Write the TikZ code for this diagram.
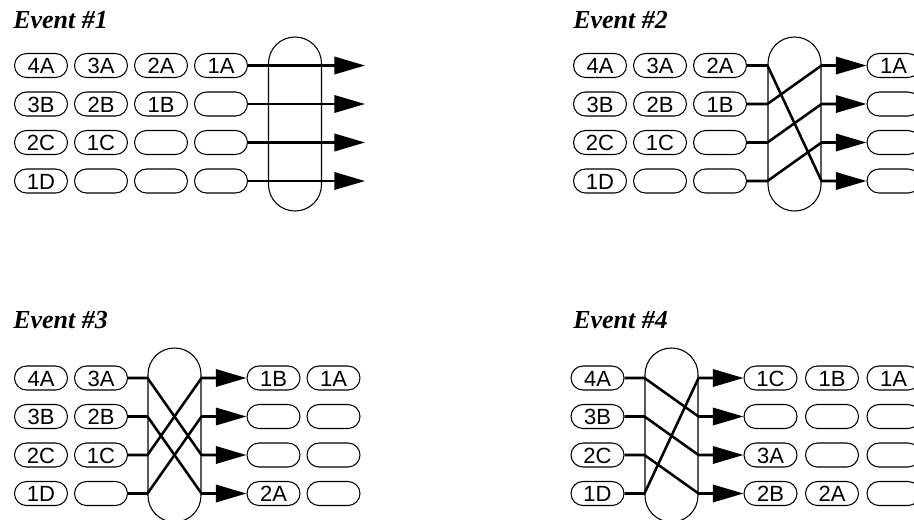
\documentclass[tikz,border=0pt]{standalone}
\usepackage{fontspec}
\setmainfont{Liberation Serif}
\setsansfont{Liberation Sans}
\usetikzlibrary{arrows.meta}

\begin{document}
\begin{tikzpicture}[x=0.75pt, y=-0.75pt, >={Triangle[length=23pt, width=13pt]},
    slot/.style={draw, line width=0.8pt, rounded corners=9pt,
      minimum width=39.75pt, minimum height=18pt, inner sep=0pt,
      text height=13.5pt, text depth=1pt,
      font=\sffamily\fontsize{16.5pt}{16.5pt}\selectfont},
    drum/.style={draw, line width=0.8pt, rounded corners=19.8pt,
      minimum width=39.75pt, minimum height=130.5pt, inner sep=0pt},
    wire/.style={line width=1.9pt, line join=round},
    title/.style={anchor=base west, inner sep=0pt,
      font=\bfseries\itshape\fontsize{19.5pt}{19.5pt}\selectfont}]

    \useasboundingbox (0,0) rectangle (914,519);
    \clip (0,0) rectangle (914,519);

    % Event #1: four queues, straight through
    \node[title] (t1) at (13,28) {Event \#1};
    \foreach \y/\labs [count=\r] in {65.5/{4A,3A,2A,1A}, 104/{3B,2B,1B,{}},
        142.5/{2C,1C,{},{}}, 181/{1D,{},{},{}}} {
      \foreach \lab [count=\c] in \labs
        \node[slot] (e1-\r-\c) at ({41+60*(\c-1)},\y) {\lab};
      \coordinate (f1-\r) at (365,\y);
    }
    \node[drum] (d1) at (295,124) {};
    \foreach \r in {1,...,4}
      \draw[wire, ->] (e1-\r-4.east) -- (f1-\r);

    % Event #2: rotate down by one
    \node[title] (t2) at (573,28) {Event \#2};
    \foreach \y/\labs [count=\r] in {65.5/{4A,3A,2A}, 104/{3B,2B,1B},
        142.5/{2C,1C,{}}, 181/{1D,{},{}}}
      \foreach \lab [count=\c] in \labs
        \node[slot] (e2-\r-\c) at ({600+60*(\c-1)},\y) {\lab};
    \foreach \y/\lab [count=\r] in {65.5/1A, 104/{}, 142.5/{}, 181/{}}
      \node[slot] (o2-\r-1) at (893.5,\y) {\lab};
    \node[drum] (d2) at (794.5,124) {};
    \foreach \r/\t in {1/4, 2/1, 3/2, 4/3}
      \draw[wire, ->] (e2-\r-3.east) -- (d2.west |- e2-\r-3.east)
        -- (d2.east |- o2-\t-1.west) -- (o2-\t-1.west);

    % Event #3: swap upper and lower pairs
    \node[title] (t3) at (13,328) {Event \#3};
    \foreach \y/\labs [count=\r] in {378/{4A,3A}, 416.5/{3B,2B},
        455/{2C,1C}, 493.5/{1D,{}}}
      \foreach \lab [count=\c] in \labs
        \node[slot] (e3-\r-\c) at ({41+60*(\c-1)},\y) {\lab};
    \foreach \y/\labs [count=\r] in {378/{1B,1A}, 416.5/{{},{}},
        455/{{},{}}, 493.5/{2A,{}}}
      \foreach \lab [count=\c] in \labs
        \node[slot] (o3-\r-\c) at ({273.5+60*(\c-1)},\y) {\lab};
    \node[drum] (d3) at (174.5,435) {};
    \foreach \r/\t in {1/3, 2/4, 3/1, 4/2}
      \draw[wire, ->] (e3-\r-2.east) -- (d3.west |- e3-\r-2.east)
        -- (d3.east |- o3-\t-1.west) -- (o3-\t-1.west);

    % Event #4: rotate up by one
    \node[title] (t4) at (573,328) {Event \#4};
    \foreach \y/\lab [count=\r] in {378/4A, 416.5/3B, 455/2C, 493.5/1D}
      \node[slot] (e4-\r-1) at (597.5,\y) {\lab};
    \foreach \y/\labs [count=\r] in {378/{1C,1B,1A}, 416.5/{{},{},{}},
        455/{3A,{},{}}, 493.5/{2B,2A,{}}}
      \foreach \lab [count=\c] in \labs
        \node[slot] (o4-\r-\c) at ({770.5+61.5*(\c-1)},\y) {\lab};
    \node[drum] (d4) at (671.5,435) {};
    \foreach \r/\t in {1/2, 2/3, 3/4, 4/1}
      \draw[wire, ->] (e4-\r-1.east) -- (d4.west |- e4-\r-1.east)
        -- (d4.east |- o4-\t-1.west) -- (o4-\t-1.west);

\end{tikzpicture}
\end{document}
